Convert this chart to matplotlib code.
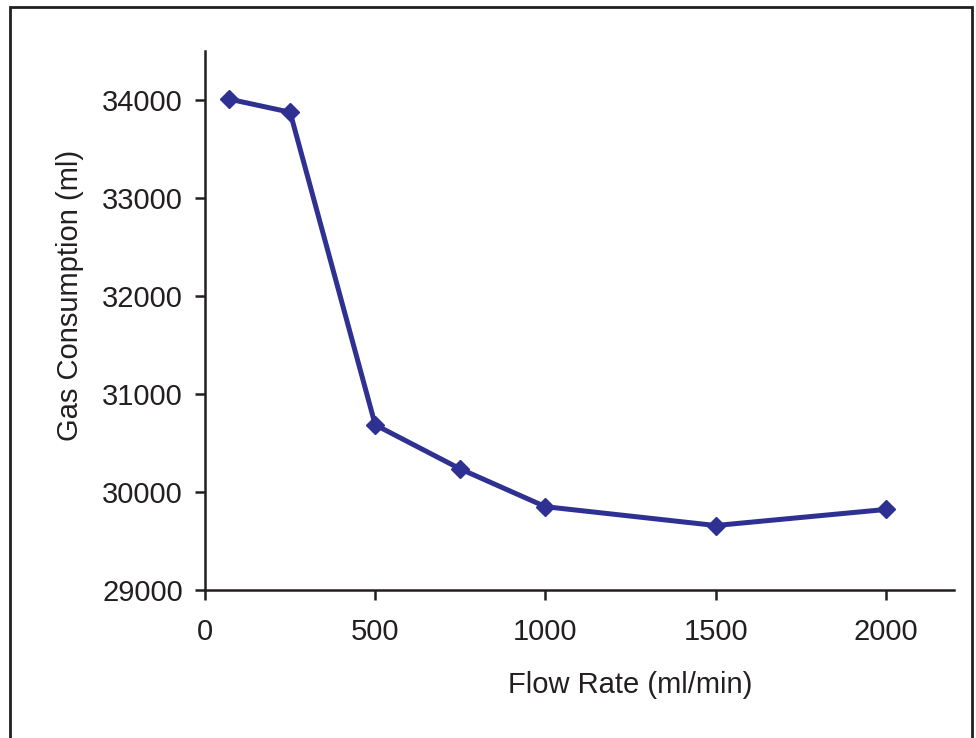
import matplotlib
matplotlib.use("Agg")
import matplotlib.pyplot as plt
from matplotlib.patches import Rectangle

# flow rate (ml/min) vs gas consumption (ml)
flow = [70, 250, 500, 750, 1000, 1500, 2000]
gas = [34010, 33875, 30685, 30235, 29850, 29658, 29822]

xticks = [0, 500, 1000, 1500, 2000]
yticks = [29000, 30000, 31000, 32000, 33000, 34000]

ink = '#231f20'
blue = '#2e3192'

plt.rcParams['font.family'] = ['Liberation Sans', 'DejaVu Sans']

fig = plt.figure(figsize=(9.76, 7.38), dpi=100)
fig.patches.append(Rectangle((10/976, -0.05), 962/976, 1.05 - 7/738,
                             transform=fig.transFigure, fill=False,
                             edgecolor=ink, linewidth=2))

ax = fig.add_axes([205/976, 1 - 590/738, (954-205)/976, (590-51)/738])
ax.plot(flow, gas, color=blue, linewidth=3.6, marker='D', markersize=9.5,
        clip_on=False)

ax.set_xlim(0, 2200)
ax.set_ylim(29000, 34500)
ax.set_xticks(xticks)
ax.set_yticks(yticks)
ax.spines['top'].set_visible(False)
ax.spines['right'].set_visible(False)
for s in ('left', 'bottom'):
    ax.spines[s].set_color(ink)
    ax.spines[s].set_linewidth(1.8)
ax.tick_params(colors=ink, labelsize=21, width=1.8, length=7)
ax.tick_params(axis='x', pad=13)
ax.tick_params(axis='y', pad=9)

ax.set_xlabel('Flow Rate (ml/min)', fontsize=21, color=ink)
ax.set_ylabel('Gas Consumption (ml)', fontsize=21, color=ink)
ax.xaxis.set_label_coords((630-205)/749, -(685-590)/539)
ax.yaxis.set_label_coords(-(205-70)/749, (590-295)/539)
ax.xaxis.label.set_va('center')
ax.yaxis.label.set_va('center')

fig.savefig('out.png', dpi=100)
